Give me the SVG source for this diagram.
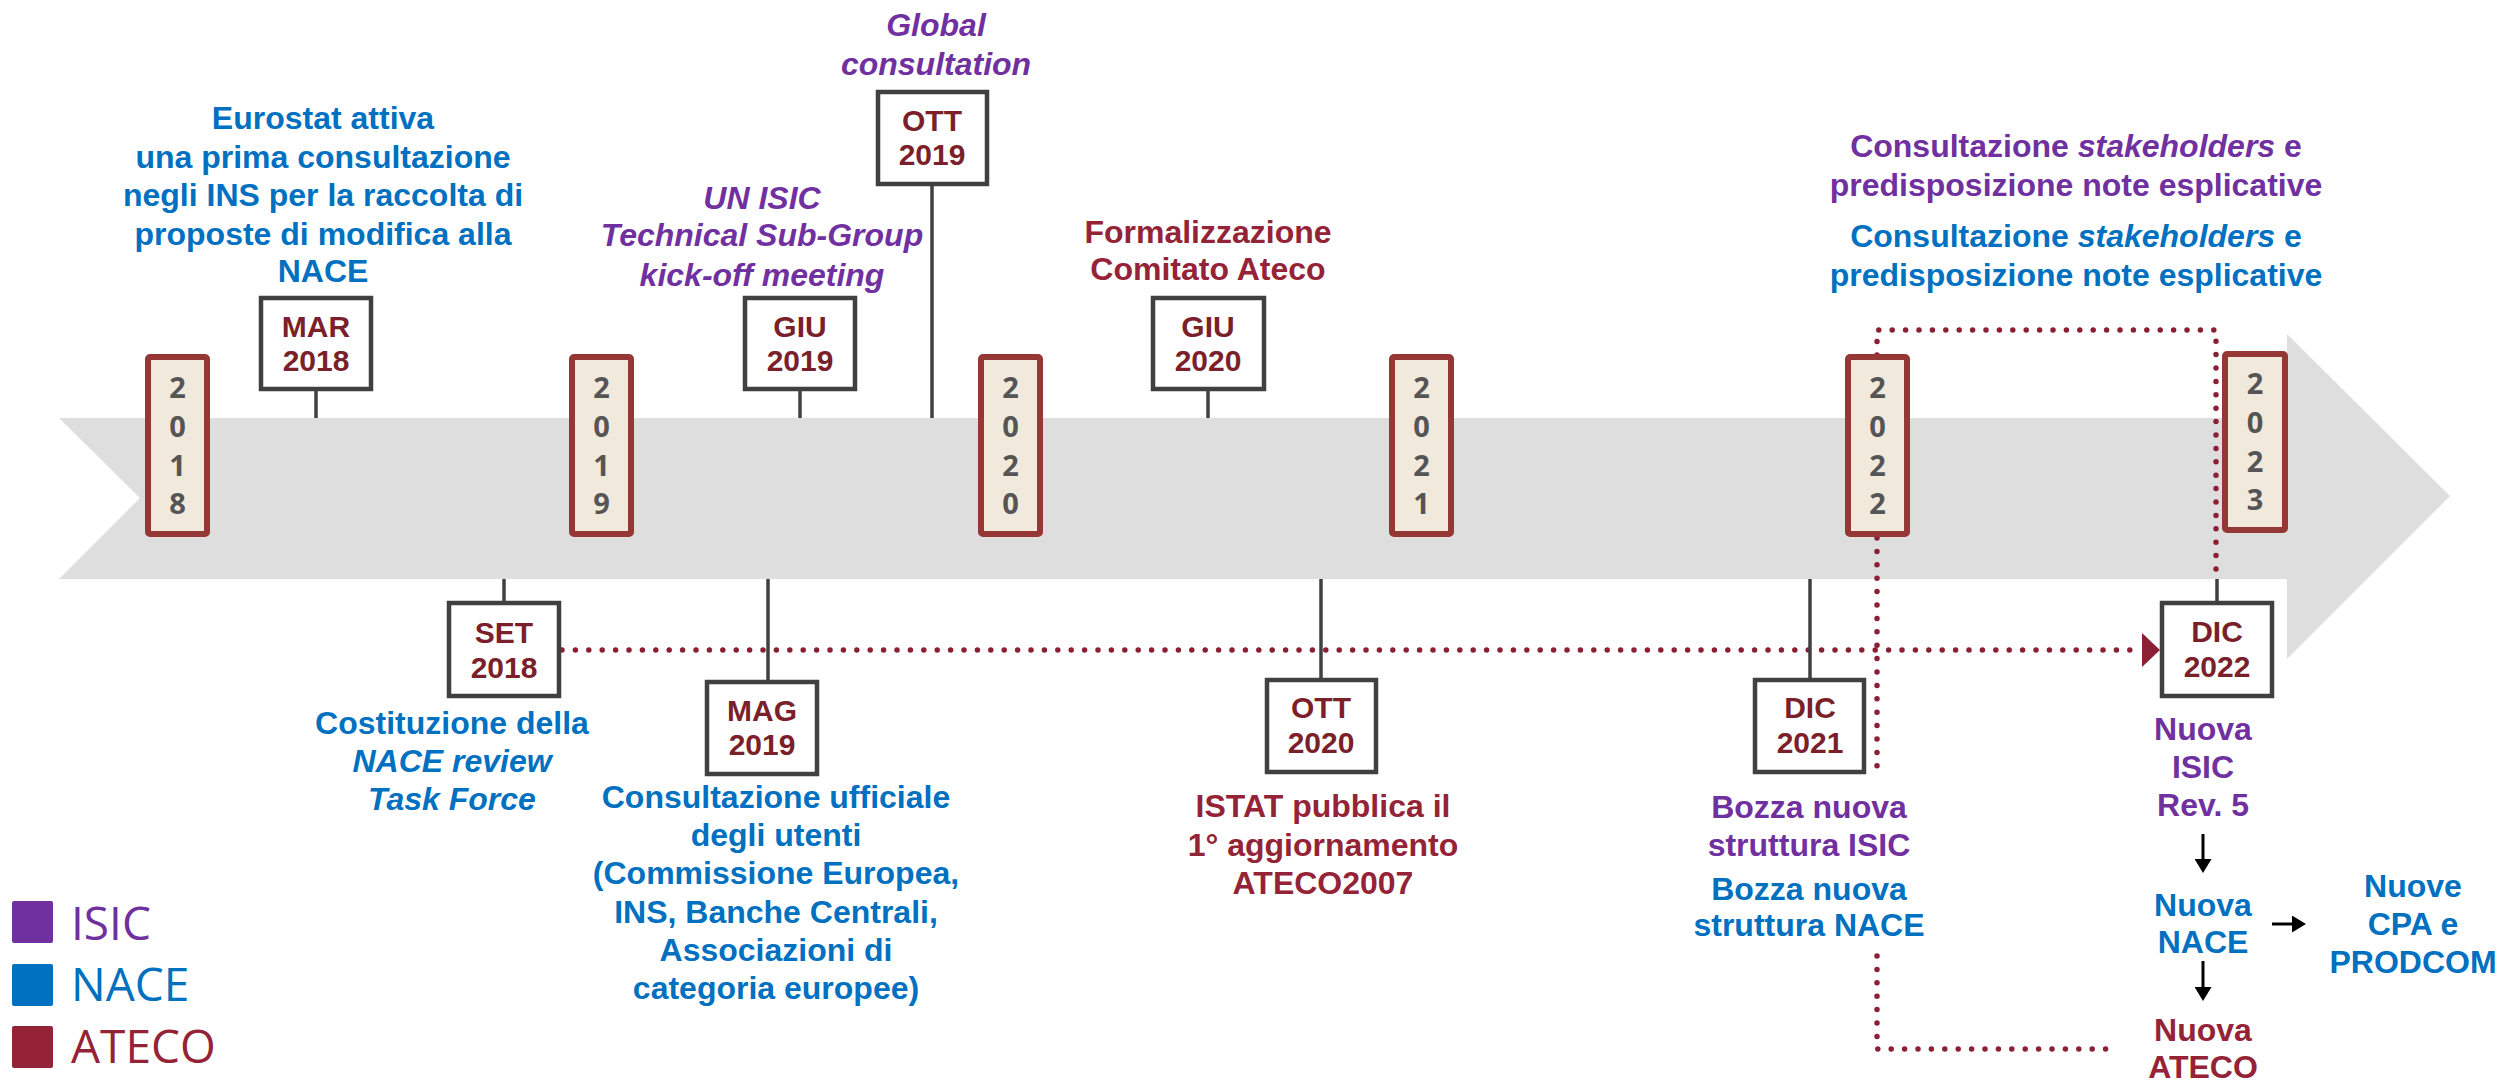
<svg xmlns="http://www.w3.org/2000/svg" width="2502" height="1083" viewBox="0 0 2502 1083">
<defs>
<style>
.t{font-family:"Liberation Sans",Arial,sans-serif;font-weight:bold;font-size:32px;text-anchor:middle}
.isic{fill:#7030A0}.nace{fill:#0070C0}.ateco{fill:#952337}
.it{font-style:italic}
.mo{font-family:"Liberation Sans",Arial,sans-serif;font-weight:bold;font-size:30px;fill:#7B1F2A;text-anchor:middle}
.yd{font-family:"Open Sans","DejaVu Sans",sans-serif;font-weight:700;font-size:29px;fill:#555555;text-anchor:middle}
.mbox{fill:#fff;stroke:#404040;stroke-width:4.5}
.ybox{fill:#F2E9DD;stroke:#953735;stroke-width:6}
.stem{stroke:#404040;stroke-width:3.5;fill:none}
.dot{fill:none;stroke:#8C1F33;stroke-width:5.5;stroke-dasharray:0 13.4;stroke-linecap:round}
.blk{stroke:#000;stroke-width:3;fill:none}
.leg{font-family:"Open Sans","DejaVu Sans",sans-serif;font-size:46px}
</style>
<marker id="redHead" viewBox="0 0 18 34" refX="0" refY="17" markerWidth="18" markerHeight="34" markerUnits="userSpaceOnUse" orient="auto">
<path d="M0,0 L18,17 L0,34 z" fill="#8C1F33"/>
</marker>
<marker id="blkHead" viewBox="0 0 14 17" refX="0" refY="8.5" markerWidth="14" markerHeight="17" markerUnits="userSpaceOnUse" orient="auto">
<path d="M0,0 L14,8.5 L0,17 z" fill="#000"/>
</marker>
</defs>

<g id="timeline-band">
<polygon points="59,418 2287,418 2287,334 2450,496 2287,659 2287,579 59,579 140,498" fill="#DEDEDE"/>
</g>

<g id="connectors">
<path class="dot" d="M1877,355 L1877,330 L2216,330 L2216,576"/>
<path class="dot" d="M1877,538 L1877,777"/>
<path class="dot" d="M1877,956 L1877,1049 L2109,1049"/>
<path class="dot" d="M562,650 L2142,650" style="marker-end:url(#redHead)"/>
<line class="stem" x1="316" y1="389" x2="316" y2="418"/>
<line class="stem" x1="800" y1="389" x2="800" y2="418"/>
<line class="stem" x1="932" y1="184" x2="932" y2="418"/>
<line class="stem" x1="1208" y1="389" x2="1208" y2="418"/>
<line class="stem" x1="504" y1="579" x2="504" y2="603"/>
<line class="stem" x1="768" y1="579" x2="768" y2="682"/>
<line class="stem" x1="1321" y1="579" x2="1321" y2="680"/>
<line class="stem" x1="1810" y1="579" x2="1810" y2="680"/>
<line class="stem" x1="2217" y1="579" x2="2217" y2="603"/>
<line class="blk" x1="2203" y1="834" x2="2203" y2="859" marker-end="url(#blkHead)"/>
<line class="blk" x1="2203" y1="961" x2="2203" y2="987" marker-end="url(#blkHead)"/>
<line class="blk" x1="2272" y1="924" x2="2292" y2="924" marker-end="url(#blkHead)"/>
</g>

<g id="y2018"><rect class="ybox" x="148" y="357" width="59" height="177" rx="2"/>
<text class="yd"><tspan x="177.5" y="398">2</tspan><tspan x="177.5" y="437">0</tspan><tspan x="177.5" y="476">1</tspan><tspan x="177.5" y="514">8</tspan></text></g>
<g id="y2019"><rect class="ybox" x="572" y="357" width="59" height="177" rx="2"/>
<text class="yd"><tspan x="601.5" y="398">2</tspan><tspan x="601.5" y="437">0</tspan><tspan x="601.5" y="476">1</tspan><tspan x="601.5" y="514">9</tspan></text></g>
<g id="y2020"><rect class="ybox" x="981" y="357" width="59" height="177" rx="2"/>
<text class="yd"><tspan x="1010.5" y="398">2</tspan><tspan x="1010.5" y="437">0</tspan><tspan x="1010.5" y="476">2</tspan><tspan x="1010.5" y="514">0</tspan></text></g>
<g id="y2021"><rect class="ybox" x="1392" y="357" width="59" height="177" rx="2"/>
<text class="yd"><tspan x="1421.5" y="398">2</tspan><tspan x="1421.5" y="437">0</tspan><tspan x="1421.5" y="476">2</tspan><tspan x="1421.5" y="514">1</tspan></text></g>
<g id="y2022"><rect class="ybox" x="1848" y="357" width="59" height="177" rx="2"/>
<text class="yd"><tspan x="1877.5" y="398">2</tspan><tspan x="1877.5" y="437">0</tspan><tspan x="1877.5" y="476">2</tspan><tspan x="1877.5" y="514">2</tspan></text></g>
<g id="y2023"><rect class="ybox" x="2225" y="354" width="60" height="176" rx="2"/>
<text class="yd"><tspan x="2255" y="394">2</tspan><tspan x="2255" y="433">0</tspan><tspan x="2255" y="472">2</tspan><tspan x="2255" y="510">3</tspan></text></g>

<g id="mar2018"><rect class="mbox" x="261" y="298" width="110" height="91"/>
<text class="mo" x="316" y="337">MAR</text><text class="mo" x="316" y="371">2018</text>
<text class="t nace"><tspan x="323" y="129">Eurostat attiva</tspan><tspan x="323" y="168">una prima consultazione</tspan><tspan x="323" y="206">negli INS per la raccolta di</tspan><tspan x="323" y="245">proposte di modifica alla</tspan><tspan x="323" y="282">NACE</tspan></text></g>

<g id="set2018"><rect class="mbox" x="449" y="603" width="110" height="93"/>
<text class="mo" x="504" y="643">SET</text><text class="mo" x="504" y="678">2018</text>
<text class="t nace"><tspan x="452" y="734">Costituzione della</tspan><tspan class="it" x="452" y="772">NACE review</tspan><tspan class="it" x="452" y="810">Task Force</tspan></text></g>

<g id="mag2019"><rect class="mbox" x="707" y="682" width="110" height="92"/>
<text class="mo" x="762" y="721">MAG</text><text class="mo" x="762" y="755">2019</text>
<text class="t nace"><tspan x="776" y="808">Consultazione ufficiale</tspan><tspan x="776" y="846">degli utenti</tspan><tspan x="776" y="884">(Commissione Europea,</tspan><tspan x="776" y="923">INS, Banche Centrali,</tspan><tspan x="776" y="961">Associazioni di</tspan><tspan x="776" y="999">categoria europee)</tspan></text></g>

<g id="giu2019"><rect class="mbox" x="745" y="298" width="110" height="91"/>
<text class="mo" x="800" y="337">GIU</text><text class="mo" x="800" y="371">2019</text>
<text class="t isic it"><tspan x="762" y="209">UN ISIC</tspan><tspan x="762" y="246">Technical Sub-Group</tspan><tspan x="762" y="286">kick-off meeting</tspan></text></g>

<g id="ott2019"><rect class="mbox" x="878" y="92" width="109" height="92"/>
<text class="mo" x="932" y="131">OTT</text><text class="mo" x="932" y="165">2019</text>
<text class="t isic it"><tspan x="936" y="36">Global</tspan><tspan x="936" y="75">consultation</tspan></text></g>

<g id="giu2020"><rect class="mbox" x="1153" y="298" width="111" height="91"/>
<text class="mo" x="1208" y="337">GIU</text><text class="mo" x="1208" y="371">2020</text>
<text class="t ateco"><tspan x="1208" y="243">Formalizzazione</tspan><tspan x="1208" y="280">Comitato Ateco</tspan></text></g>

<g id="ott2020"><rect class="mbox" x="1267" y="680" width="109" height="92"/>
<text class="mo" x="1321" y="718">OTT</text><text class="mo" x="1321" y="753">2020</text>
<text class="t ateco"><tspan x="1323" y="817">ISTAT pubblica il</tspan><tspan x="1323" y="856">1° aggiornamento</tspan><tspan x="1323" y="894">ATECO2007</tspan></text></g>

<g id="dic2021"><rect class="mbox" x="1755" y="680" width="109" height="92"/>
<text class="mo" x="1810" y="718">DIC</text><text class="mo" x="1810" y="753">2021</text>
<text class="t isic"><tspan x="1809" y="818">Bozza nuova</tspan><tspan x="1809" y="856">struttura ISIC</tspan></text>
<text class="t nace"><tspan x="1809" y="900">Bozza nuova</tspan><tspan x="1809" y="936">struttura NACE</tspan></text></g>

<g id="consultazione-stakeholders">
<text class="t isic"><tspan x="2076" y="157">Consultazione <tspan class="it">stakeholders</tspan> e</tspan><tspan x="2076" y="196">predisposizione note esplicative</tspan></text>
<text class="t nace"><tspan x="2076" y="247">Consultazione <tspan class="it">stakeholders</tspan> e</tspan><tspan x="2076" y="286">predisposizione note esplicative</tspan></text>
</g>

<g id="dic2022"><rect class="mbox" x="2162" y="603" width="110" height="93"/>
<text class="mo" x="2217" y="642">DIC</text><text class="mo" x="2217" y="677">2022</text></g>

<g id="nuova-isic"><text class="t isic"><tspan x="2203" y="740">Nuova</tspan><tspan x="2203" y="778">ISIC</tspan><tspan x="2203" y="816">Rev. 5</tspan></text></g>
<g id="nuova-nace"><text class="t nace"><tspan x="2203" y="916">Nuova</tspan><tspan x="2203" y="953">NACE</tspan></text></g>
<g id="nuove-cpa"><text class="t nace"><tspan x="2413" y="897">Nuove</tspan><tspan x="2413" y="935">CPA e</tspan><tspan x="2413" y="973">PRODCOM</tspan></text></g>
<g id="nuova-ateco"><text class="t ateco"><tspan x="2203" y="1041">Nuova</tspan><tspan x="2203" y="1078">ATECO</tspan></text></g>

<g id="legend">
<rect x="12" y="901" width="41" height="42" rx="2" fill="#7030A0"/>
<text class="leg" x="71" y="940" fill="#7030A0">ISIC</text>
<rect x="12" y="964" width="41" height="42" rx="2" fill="#0070C0"/>
<text class="leg" x="71" y="1001" fill="#0070C0">NACE</text>
<rect x="12" y="1026" width="41" height="42" rx="2" fill="#952337"/>
<text class="leg" x="71" y="1063" fill="#952337">ATECO</text>
</g>
</svg>
